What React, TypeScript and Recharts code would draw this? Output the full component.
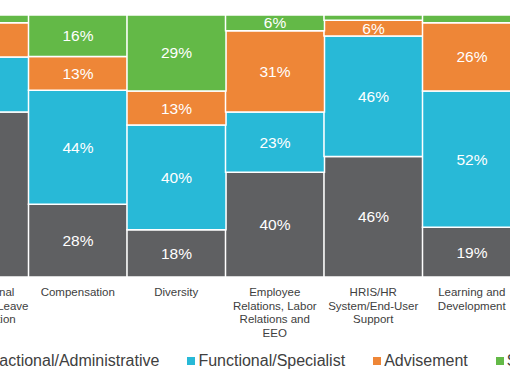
import React from 'react';
import { BarChart, Bar, XAxis, YAxis, LabelList, Legend } from 'recharts';

const categories = [
  'Flex/Personal\nBenefits and Leave\nAdministration',
  'Compensation',
  'Diversity',
  'Employee\nRelations, Labor\nRelations and\nEEO',
  'HRIS/HR\nSystem/End-User\nSupport',
  'Learning and\nDevelopment',
];
const transactional = [63, 28, 18, 40, 46, 19];
const functional = [21, 44, 40, 23, 46, 52];
const advisement = [13, 13, 13, 31, 6, 26];
const strategic = [3, 16, 29, 6, 2, 3];

const seriesNames = ['Transactional/Administrative', 'Functional/Specialist', 'Advisement', 'Strategic'];
const seriesKeys = ['transactional', 'functional', 'advisement', 'strategic'];
const seriesColors = ['#5f6062', '#28b9d7', '#ee8637', '#63b947'];

const data = categories.map((name, i) => ({
  name,
  transactional: transactional[i],
  functional: functional[i],
  advisement: advisement[i],
  strategic: strategic[i],
}));

const FONT = '"Liberation Sans", Arial, sans-serif';

const CategoryTick = (props: any) => {
  const { x, y, payload } = props;
  const lines = String(payload.value).split('\n');
  return (
    <text x={x} y={y} textAnchor="middle" fill="#404040" fontSize={11.5} fontFamily={FONT}>
      {lines.map((l, i) => (
        <tspan key={i} x={x} dy={i === 0 ? 19 : 13.5}>
          {l}
        </tspan>
      ))}
    </text>
  );
};

const LegendRow = () => (
  <div
    style={{
      position: 'absolute',
      left: 48,
      top: 351,
      height: 20,
      display: 'flex',
      alignItems: 'center',
      whiteSpace: 'nowrap',
      fontFamily: FONT,
      fontSize: 16,
      lineHeight: '20px',
      color: '#404040',
    }}
  >
    {seriesNames.map((n, i) => (
      <div key={n} style={{ display: 'flex', alignItems: 'center', marginRight: 28 }}>
        <span style={{ width: 8, height: 8, background: seriesColors[i], marginRight: 3, display: 'inline-block' }} />
        <span>{n}</span>
      </div>
    ))}
  </div>
);

export default function App() {
  return (
    <div
      style={{
        position: 'fixed',
        left: 0,
        top: 0,
        width: 510,
        height: 382,
        overflow: 'hidden',
        background: '#ffffff',
      }}
    >
      <div style={{ position: 'absolute', left: -100, top: 0 }}>
        <BarChart
          width={650}
          height={382}
          data={data}
          stackOffset="expand"
          barCategoryGap={0}
          barGap={0}
          margin={{ top: 15, right: 29, bottom: 0, left: 30 }}
        >
          <XAxis
            dataKey="name"
            axisLine={false}
            tickLine={false}
            tickSize={0}
            tickMargin={0}
            interval={0}
            height={105}
            tick={<CategoryTick />}
          />
          <YAxis hide domain={[0, 1]} />
          <Legend
            wrapperStyle={{ position: 'absolute', left: 0, top: 0, bottom: 'auto', width: 0, height: 0 }}
            content={() => <LegendRow />}
          />
          {seriesKeys.map((k, i) => (
            <Bar
              key={k}
              dataKey={k}
              name={seriesNames[i]}
              stackId="a"
              fill={seriesColors[i]}
              stroke="#ffffff"
              strokeWidth={1.5}
              isAnimationActive={false}
            >
              <LabelList
                dataKey={k}
                position="center"
                fill="#ffffff"
                fontSize={15.5}
                fontFamily={FONT}
                formatter={(v: any) => (Number(v) >= 5 ? `${v}%` : '')}
              />
            </Bar>
          ))}
        </BarChart>
      </div>
    </div>
  );
}
